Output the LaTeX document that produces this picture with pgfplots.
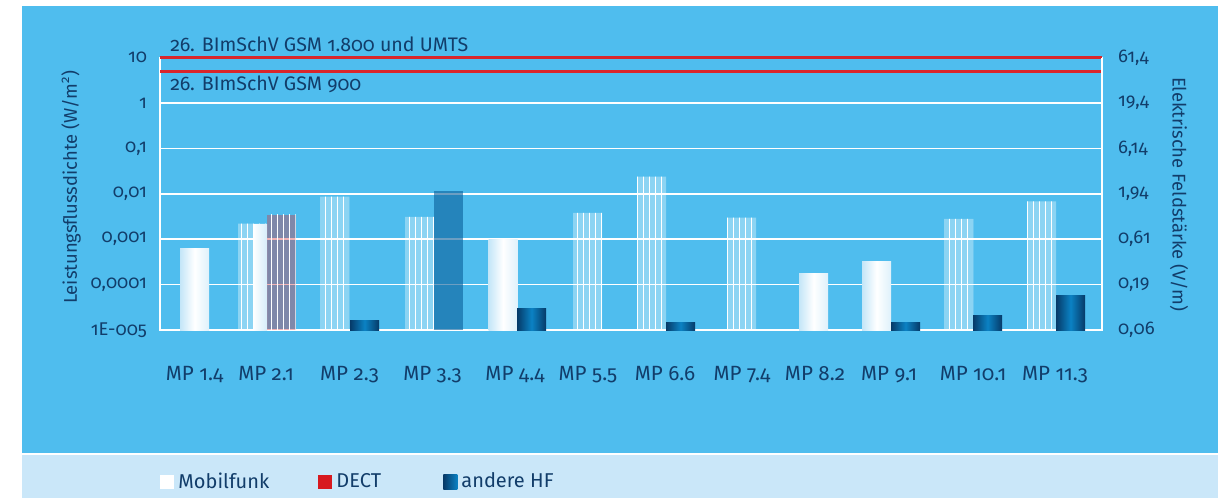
\documentclass[border=0pt]{standalone}
\usepackage{pgfplots}
\pgfplotsset{compat=1.18}
\usetikzlibrary{patterns}
\usepackage{fontspec}
\setmainfont{Fira Sans}[Numbers=OldStyle]
\definecolor{bg}{HTML}{4FBDEE}
\definecolor{strip}{HTML}{CAE7F9}
\definecolor{navy}{HTML}{123D6A}
\definecolor{limred}{HTML}{D9262B}
\definecolor{legred}{HTML}{D7191F}
\definecolor{hfdark}{HTML}{063A68}
\definecolor{hfmid}{HTML}{0B82C4}
\definecolor{hffade}{HTML}{0A5E9A}
\definecolor{mobl}{HTML}{C4E6F8}
\newcommand{\chartfont}{\fontsize{9.2}{11}\selectfont}
\newcommand{\annfont}{\fontsize{9.8}{11}\selectfont}
\newcommand{\xfont}{\fontsize{10.3}{12}\selectfont}
\newcommand{\legfont}{\fontsize{10}{12}\selectfont}
% one bar per plot so that each bar gets its own shading
\newcommand{\mobbar}[2]{\addplot[ybar, bar shift=0pt, bar width=29, draw=none,
  left color=mobl, right color=mobl!55!white, middle color=white, forget plot] coordinates {(#1,#2)};}
\newcommand{\hfbar}[2]{\addplot[ybar, bar shift=0pt, bar width=29, draw=none,
  left color=hfdark, right color=hfdark, middle color=hfmid, forget plot] coordinates {(#1,#2)};}
\begin{document}
\begin{tikzpicture}
\useasboundingbox (0,0) rectangle (609pt,-249pt);
\begin{scope}[x=0.5pt,y=-0.5pt]
\fill[white] (0,0) rectangle (1218,498);
\fill[bg] (22,6) rectangle (1218,453);
\fill[strip] (22,455) rectangle (1218,498);
\node[font=\annfont, text=navy, anchor=base west, inner sep=0pt] at (170,51) {26. BImSchV GSM 1.800 und UMTS};
\node[font=\annfont, text=navy, anchor=base west, inner sep=0pt] at (170,90) {26. BImSchV GSM 900};
\node[font=\chartfont, text=navy, rotate=90, inner sep=0pt] at (71,187) {Leistungsflussdichte (W/m\textsuperscript{2})};
\node[font=\chartfont, text=navy, rotate=-90, inner sep=0pt] at (1179,194) {Elektrische Feldstärke (V/m)};
\end{scope}

\begin{axis}[
  at={(80pt,-165pt)}, anchor=south west,
  scale only axis, width=471pt, height=136.15pt,
  xmin=160, xmax=1102,
  ymode=log, ymin=1e-5, ymax=10, log origin=infty,
  clip=false,
  axis line style={white, line width=0.75pt},
  ymajorgrids, grid style={white, line width=0.75pt},
  yminorticks=false, major tick length=0pt,
  xtick={194.5,266,349.5,432.5,515,588,665,742,815,889,973,1055},
  xticklabels={MP 1.4,MP 2.1,MP 2.3,MP 3.3,MP 4.4,MP 5.5,MP 6.6,MP 7.4,MP 8.2,MP 9.1,MP 10.1,MP 11.3},
  xticklabel style={anchor=base, yshift=-25pt, font=\xfont, text=navy},
  ytick={1e-5,1e-4,1e-3,1e-2,1e-1,1,10},
  yticklabels={{1E-005},{0,0001},{0,001},{0,01},{0,1},{1},{10}},
  yticklabel style={font=\chartfont, text=navy, xshift=-3pt},
  legend columns=3,
  legend style={at={(0,-0.558)}, anchor=west, draw=none, fill=none, inner sep=0pt,
    font=\legfont, text=navy, column sep=0pt},
  legend image code/.code={\fill[#1, draw=none] (0pt,-3.6pt) rectangle (7pt,3.6pt);},
]
% faded Mobilfunk bars
\addplot[ybar, bar shift=0pt, bar width=29, draw=none, fill=white, fill opacity=0.35,
  postaction={pattern=vertical lines, pattern color=white, fill opacity=0.08}, forget plot]
  coordinates {(252.5,0.0022) (334.5,0.0087) (419.5,0.0031) (587.5,0.0038) (651.5,0.024) (741.5,0.003) (958.5,0.0028) (1041.5,0.0068)};
% solid Mobilfunk bars
\mobbar{194.5}{0.00062}
\mobbar{503}{0.001}
\mobbar{813.5}{0.00018}
\mobbar{876.5}{0.00032}
\addplot[ybar, bar shift=0pt, bar width=14, draw=none, left color=white, right color=mobl!70!white, forget plot]
  coordinates {(260,0.0021)};
% faded DECT bar
\addplot[ybar, bar shift=0pt, bar width=29, draw=none, fill=limred, fill opacity=0.35,
  postaction={pattern=vertical lines, pattern color=white, fill opacity=0.08}, forget plot]
  coordinates {(281,0.0035)};
% faded andere HF bar
\addplot[ybar, bar shift=0pt, bar width=29, draw=none, fill=hffade, fill opacity=0.6, forget plot]
  coordinates {(448.5,0.0118)};
% solid andere HF bars
\hfbar{364.5}{1.58e-5}
\hfbar{531.5}{3.05e-5}
\hfbar{680.5}{1.43e-5}
\hfbar{905.5}{1.5e-5}
\hfbar{987.5}{2.14e-5}
\hfbar{1070.5}{5.9e-5}
% limit lines
\addplot[limred, line width=1.3pt, forget plot] coordinates {(160,10) (1102,10)};
\addplot[limred, line width=1.3pt, forget plot] coordinates {(160,4.9) (1102,4.9)};
\addlegendimage{fill=white}
\addlegendentry{\makebox[68pt][l]{Mobilfunk}}
\addlegendimage{fill=legred}
\addlegendentry{\makebox[51.5pt][l]{DECT}}
\addlegendimage{left color=hfdark, right color=hfmid}
\addlegendentry{andere HF}
\end{axis}
\begin{axis}[
  at={(80pt,-165pt)}, anchor=south west,
  scale only axis, width=471pt, height=136.15pt,
  xmin=160, xmax=1102,
  ymode=log, ymin=1e-5, ymax=10,
  axis y line*=right, hide x axis,
  axis line style={white, line width=0.75pt},
  yminorticks=false, major tick length=0pt,
  ytick={1e-5,1e-4,1e-3,1e-2,1e-1,1,10},
  yticklabels={{0,06},{0,19},{0,61},{1,94},{6,14},{19,4},{61,4}},
  yticklabel style={font=\chartfont, text=navy, xshift=4.5pt},
]
\addplot[draw=none, forget plot] coordinates {(160,1e-5) (1102,10)};
\end{axis}
\end{tikzpicture}
\end{document}
